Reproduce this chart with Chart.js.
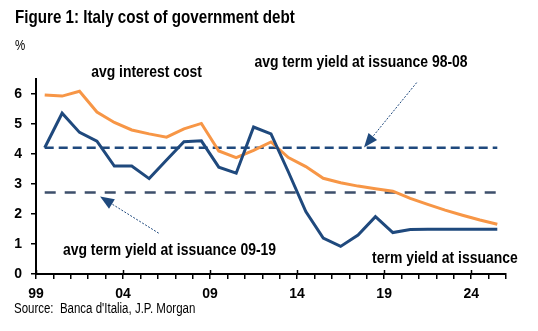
<!DOCTYPE html>
<html><head><meta charset="utf-8">
<script src="https://cdn.jsdelivr.net/npm/chart.js@4.4.1/dist/chart.umd.min.js"></script>
<style>
html,body{margin:0;padding:0;background:#fff;}
#wrap{position:relative;width:538px;height:331px;overflow:hidden;background:#fff;}
canvas{position:absolute;left:0;top:0;}
.t{position:absolute;white-space:nowrap;font-family:'Liberation Sans',Arial,sans-serif;color:#000;line-height:1;transform:scaleX(0.82);transform-origin:0 0;}
#title{left:15px;top:8px;font-size:18.5px;font-weight:bold;}
#pct{left:15px;top:38px;font-size:14px;}
#src{left:14px;top:301px;font-size:14px;}
</style></head><body>
<div id="wrap">
<canvas id="c" width="538" height="331"></canvas>
<div class="t" id="title">Figure 1: Italy cost of government debt</div>
<div class="t" id="pct">%</div>
<div class="t" id="src">Source:&nbsp; Banca d'Italia, J.P. Morgan</div>
</div>
<script>
// ---- data ----
const years = [1999,2000,2001,2002,2003,2004,2005,2006,2007,2008,2009,2010,2011,2012,2013,2014,2015,2016,2017,2018,2019,2020,2021,2022,2023,2024,2025];
const avgInterestCost = [5.97,5.93,6.09,5.40,5.05,4.80,4.67,4.56,4.84,5.02,4.10,3.88,4.12,4.40,3.88,3.58,3.19,3.04,2.93,2.84,2.76,2.52,2.32,2.13,1.96,1.80,1.66];
const termYieldAtIssuance = [4.21,5.36,4.72,4.43,3.60,3.60,3.18,3.80,4.41,4.44,3.56,3.36,4.90,4.67,3.40,2.08,1.20,0.92,1.30,1.91,1.38,1.48,1.49,1.49,1.49,1.49,1.49];
const avgTermYield9808 = 4.21;
const avgTermYield0919 = 2.72;
const xTickLabels = {1999:'99',2004:'04',2009:'09',2014:'14',2019:'19',2024:'24'};
const yTicks = [0,1,2,3,4,5,6];
const textNotes = [
  {text:'avg interest cost', x:2005.35, y:6.73},
  {text:'avg term yield at issuance 98-08', x:2017.67, y:7.07},
  {text:'avg term yield at issuance 09-19', x:2006.67, y:0.78},
  {text:'term yield at issuance', x:2022.49, y:0.53}
];
const arrowNotes = [
  {from:[2020.87,6.38], to:[2017.84,4.22]},
  {from:[2006.05,1.36], to:[2002.68,2.58]}
];

// ---- styles ----
const NAVY = '#1F497D';
const ORANGE = '#F79646';
const SLATE = '#3D4F6B';
const FONT = "'Liberation Sans',Arial,sans-serif";
const NARROW = 0.82;

const mid = v => years.map((y,i)=>({x:y+0.5, y:(Array.isArray(v)?v[i]:v)}));

const notesPlugin = {
  id:'notes',
  afterDraw(chart){
    const {ctx, scales:{x,y}, chartArea} = chart;
    ctx.save();
    // major ticks extend above the axis
    ctx.strokeStyle = '#000'; ctx.lineWidth = 1.5;
    Object.keys(xTickLabels).forEach(k=>{
      const px = Math.round(x.getPixelForValue(+k))+0.5;
      ctx.beginPath(); ctx.moveTo(px, chartArea.bottom-4); ctx.lineTo(px, chartArea.bottom); ctx.stroke();
    });
    // texts (condensed)
    ctx.fillStyle = '#000';
    ctx.font = 'bold 17px ' + FONT;
    ctx.textAlign = 'center'; ctx.textBaseline = 'middle';
    textNotes.forEach(n=>{
      ctx.save();
      ctx.translate(x.getPixelForValue(n.x), y.getPixelForValue(n.y));
      ctx.scale(NARROW,1);
      ctx.fillText(n.text, 0, 0);
      ctx.restore();
    });
    // arrows
    arrowNotes.forEach(a=>{
      const x0 = x.getPixelForValue(a.from[0]), y0 = y.getPixelForValue(a.from[1]);
      const x1 = x.getPixelForValue(a.to[0]), y1 = y.getPixelForValue(a.to[1]);
      const ang = Math.atan2(y1-y0, x1-x0);
      const hl = 14, hw = 5.5;
      const bx = x1 - hl*Math.cos(ang), by = y1 - hl*Math.sin(ang);
      ctx.strokeStyle = NAVY; ctx.lineWidth = 1; ctx.setLineDash([2,1.5]);
      ctx.beginPath(); ctx.moveTo(x0,y0); ctx.lineTo(bx,by); ctx.stroke();
      ctx.setLineDash([]);
      ctx.fillStyle = NAVY;
      ctx.beginPath();
      ctx.moveTo(x1,y1);
      ctx.lineTo(bx + hw*Math.sin(ang), by - hw*Math.cos(ang));
      ctx.lineTo(bx - hw*Math.sin(ang), by + hw*Math.cos(ang));
      ctx.closePath(); ctx.fill();
    });
    ctx.restore();
  }
};

new Chart(document.getElementById('c'), {
  type:'line',
  data:{
    datasets:[
      {label:'term yield at issuance', data:mid(termYieldAtIssuance), borderColor:NAVY, borderWidth:3, order:1},
      {label:'avg interest cost', data:mid(avgInterestCost), borderColor:ORANGE, borderWidth:3, order:2},
      {label:'avg term yield at issuance 98-08', data:mid(avgTermYield9808), borderColor:NAVY, borderWidth:2.5, borderDash:[9,5], order:3},
      {label:'avg term yield at issuance 09-19', data:mid(avgTermYield0919), borderColor:SLATE, borderWidth:2.5, borderDash:[11,9], order:4}
    ]
  },
  options:{
    responsive:false, animation:false, devicePixelRatio:1,
    layout:{padding:{left:0, top:79, right:32, bottom:27}},
    elements:{point:{radius:0}, line:{tension:0, borderCapStyle:'butt'}},
    plugins:{legend:{display:false}, tooltip:{enabled:false}},
    scales:{
      x:{type:'linear', min:1999, max:2026,
        ticks:{stepSize:1, autoSkip:false, maxRotation:0, padding:7, color:'#000',
          font:{family:FONT, size:14, weight:'bold'},
          callback:v=>xTickLabels[v]||''},
        grid:{drawOnChartArea:false, drawTicks:true, tickLength:5, color:'#000', lineWidth:1.5},
        border:{display:true, color:'#000', width:2},
        afterFit:s=>{s.height=30;}
      },
      y:{min:0, max:6.5,
        ticks:{stepSize:1, padding:9, color:'#000', font:{family:FONT, size:14, weight:'bold'}},
        afterBuildTicks:s=>{s.ticks = yTicks.map(v=>({value:v}));},
        grid:{drawOnChartArea:false, drawTicks:true, tickLength:5, color:'#000', lineWidth:1.5},
        border:{display:true, color:'#000', width:2},
        afterFit:s=>{s.width=36;}
      }
    }
  },
  plugins:[notesPlugin]
});
</script>
</body></html>
